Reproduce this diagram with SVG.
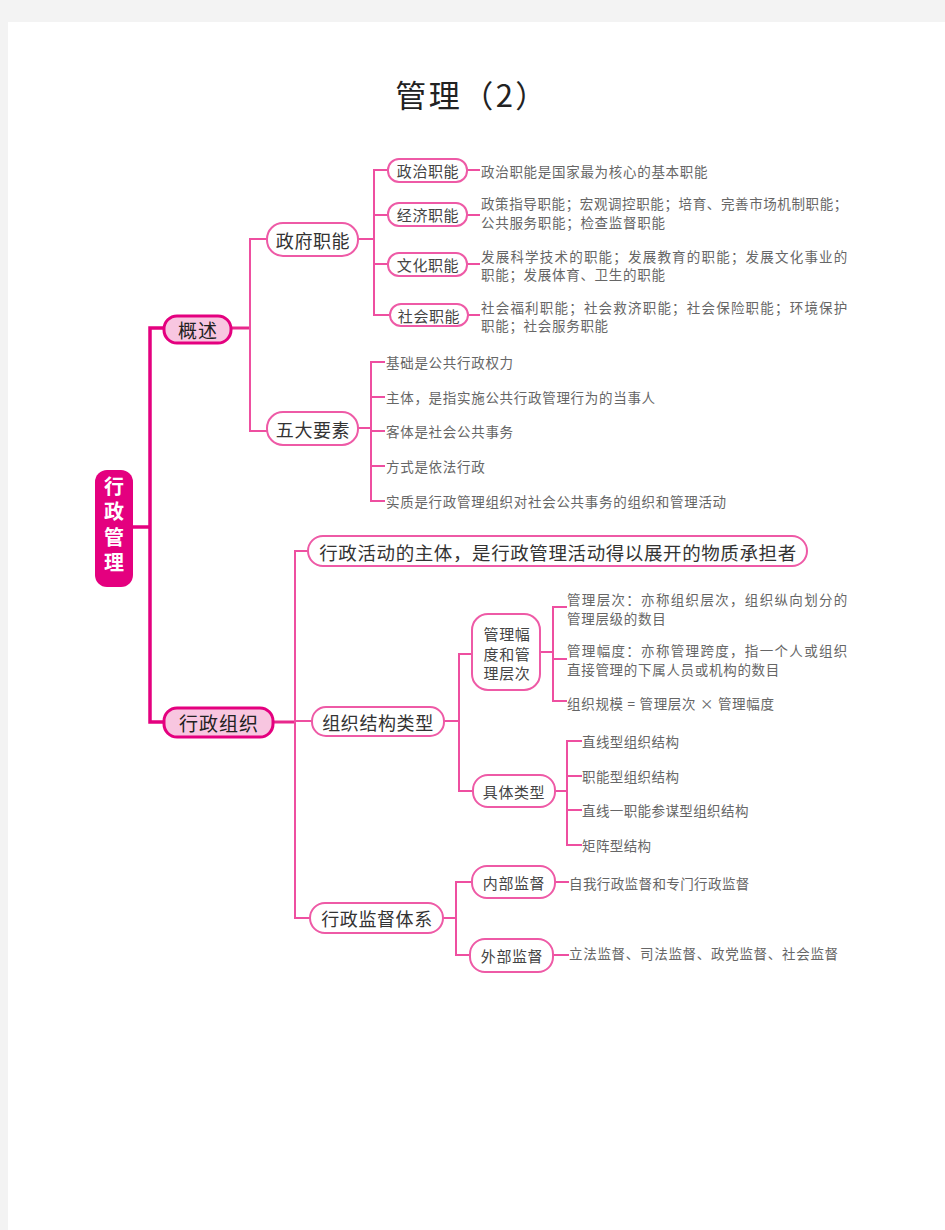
<svg xmlns="http://www.w3.org/2000/svg" width="945" height="1230" viewBox="0 0 945 1230">
<style>
text{font-family:"Noto Sans CJK SC","Noto Sans",sans-serif;dominant-baseline:central}
.title{font-size:31px;fill:#222;text-anchor:middle;letter-spacing:2.5px}
.root{font-size:20px;fill:#fff;font-weight:bold;text-anchor:middle;writing-mode:vertical-rl;letter-spacing:5.3px}
.n1{fill:#f8c6e0;stroke:#e4007f;stroke-width:3}
.t1{font-size:19px;fill:#222;text-anchor:middle;letter-spacing:1px}
.n2{fill:#fff;stroke:#ee5aa6;stroke-width:2}
.t2{font-size:18px;fill:#333;text-anchor:middle;letter-spacing:0.6px}
.t3{font-size:15px;fill:#444;text-anchor:middle;letter-spacing:0.6px}
.d{font-size:13.5px;fill:#666;letter-spacing:0.7px}
.d2{font-size:13.5px;fill:#666;letter-spacing:0.4px}
.thick{fill:none;stroke:#e4007f;stroke-width:3.5}
.mid{fill:none;stroke:#e8288c;stroke-width:3}
.thin{fill:none;stroke:#ee4fa0;stroke-width:2}
</style>
<rect x="0" y="0" width="945" height="1230" fill="#f3f3f3"/>
<rect x="8" y="22" width="937" height="1208" fill="#fff"/>
<text class="title" x="472" y="93">管理（2）</text>

<g id="connectors">
<path class="thick" d="M133,527 H150 M164,328 H150 V722 H164"/>
<path class="mid" d="M231,328 H250 M273,722 H295"/>
<path class="thin" d="M267,239 H250 V431 H267"/>
<path class="thin" d="M358,239 H374 M388,170 H374 V315 H390 M374,215 H388 M374,264 H388"/>
<path class="thin" d="M467,170 H480 M467,215 H480 M467,264 H480 M468,315 H480"/>
<path class="thin" d="M358,428 H371 M385,362 H371 V501 H385 M371,397 H385 M371,431 H385 M371,466 H385"/>
<path class="thin" d="M308,551 H295 V918 H310 M295,721 H312"/>
<path class="thin" d="M444,721 H459 M472,654 H459 V791 H473"/>
<path class="thin" d="M540,652 H553 M567,607 H553 V701 H567 M553,659 H567"/>
<path class="thin" d="M555,791 H567 M582,741 H567 V845 H582 M567,776 H582 M567,810 H582"/>
<path class="thin" d="M443,918 H456 M472,882 H456 V955 H470"/>
<path class="thin" d="M555,882 H569 M553,955 H569"/>
</g>

<g id="root">
<rect x="95" y="470" width="38" height="117" rx="12" fill="#e4007f"/>
<text class="root" x="114" y="527">行政管理</text>
</g>

<g id="gaishu">
<rect class="n1" x="164" y="316" width="67" height="27" rx="13"/>
<text class="t1" x="198" y="329.5">概述</text>
</g>
<g id="xingzhengzuzhi">
<rect class="n1" x="164" y="708" width="109" height="29" rx="13"/>
<text class="t1" x="219" y="722.5">行政组织</text>
</g>

<g id="zhengfuzhineng">
<rect class="n2" x="267" y="223" width="91" height="33" rx="16"/>
<text class="t2" x="313" y="239.5">政府职能</text>
</g>
<g id="wudayaosu">
<rect class="n2" x="267" y="412" width="91" height="33" rx="16"/>
<text class="t2" x="313" y="428.5">五大要素</text>
</g>

<g id="zhengzhi">
<rect class="n2" x="388" y="159" width="79" height="23" rx="11"/>
<text class="t3" x="428" y="170.5">政治职能</text>
<text class="d" x="481" y="170.5">政治职能是国家最为核心的基本职能</text>
</g>
<g id="jingji">
<rect class="n2" x="388" y="203" width="79" height="23" rx="11"/>
<text class="t3" x="428" y="214.5">经济职能</text>
<text class="d" x="481" y="203" textLength="367" lengthAdjust="spacing">政策指导职能；宏观调控职能；培育、完善市场机制职能；</text>
<text class="d" x="481" y="222">公共服务职能；检查监督职能</text>
</g>
<g id="wenhua">
<rect class="n2" x="388" y="253" width="79" height="23" rx="11"/>
<text class="t3" x="428" y="264.5">文化职能</text>
<text class="d" x="481" y="256" textLength="367" lengthAdjust="spacing">发展科学技术的职能；发展教育的职能；发展文化事业的</text>
<text class="d" x="481" y="274">职能；发展体育、卫生的职能</text>
</g>
<g id="shehui">
<rect class="n2" x="390" y="304" width="78" height="22" rx="11"/>
<text class="t3" x="429" y="315">社会职能</text>
<text class="d" x="481" y="307" textLength="367" lengthAdjust="spacing">社会福利职能；社会救济职能；社会保险职能；环境保护</text>
<text class="d" x="481" y="325">职能；社会服务职能</text>
</g>

<g id="yaosu-items">
<text class="d" x="386" y="362">基础是公共行政权力</text>
<text class="d" x="386" y="397">主体，是指实施公共行政管理行为的当事人</text>
<text class="d" x="386" y="431">客体是社会公共事务</text>
<text class="d" x="386" y="466">方式是依法行政</text>
<text class="d" x="386" y="501">实质是行政管理组织对社会公共事务的组织和管理活动</text>
</g>

<g id="zhuti">
<rect class="n2" x="308" y="536" width="499" height="30" rx="15"/>
<text class="t2" x="558" y="551.5" style="font-size:18.5px">行政活动的主体，是行政管理活动得以展开的物质承担者</text>
</g>
<g id="jiegouleixing">
<rect class="n2" x="312" y="707" width="132" height="29" rx="14"/>
<text class="t2" x="378" y="721.5">组织结构类型</text>
</g>
<g id="jiandu">
<rect class="n2" x="310" y="903" width="133" height="30" rx="15"/>
<text class="t2" x="377" y="918">行政监督体系</text>
</g>

<g id="fudu">
<rect class="n2" x="472" y="614" width="68" height="76" rx="16"/>
<text class="t3" x="507" y="633">管理幅</text>
<text class="t3" x="507" y="653">度和管</text>
<text class="t3" x="507" y="672">理层次</text>
<text class="d" x="567" y="598.5" textLength="281" lengthAdjust="spacing">管理层次：亦称组织层次，组织纵向划分的</text>
<text class="d" x="567" y="618">管理层级的数目</text>
<text class="d" x="567" y="649.5" textLength="281" lengthAdjust="spacing">管理幅度：亦称管理跨度，指一个人或组织</text>
<text class="d" x="567" y="669">直接管理的下属人员或机构的数目</text>
<text class="d" x="567" y="703">组织规模 = 管理层次 × 管理幅度</text>
</g>

<g id="jutileixing">
<rect class="n2" x="473" y="775" width="82" height="32" rx="15"/>
<text class="t3" x="514" y="791">具体类型</text>
<text class="d2" x="582" y="741">直线型组织结构</text>
<text class="d2" x="582" y="776">职能型组织结构</text>
<text class="d2" x="582" y="810">直线一职能参谋型组织结构</text>
<text class="d2" x="582" y="845">矩阵型结构</text>
</g>

<g id="neibu">
<rect class="n2" x="472" y="866" width="83" height="32" rx="15"/>
<text class="t3" x="514" y="882">内部监督</text>
<text class="d2" x="569" y="883">自我行政监督和专门行政监督</text>
</g>
<g id="waibu">
<rect class="n2" x="470" y="939" width="83" height="33" rx="15"/>
<text class="t3" x="512" y="955.5">外部监督</text>
<text class="d" x="569" y="953">立法监督、司法监督、政党监督、社会监督</text>
</g>
</svg>
